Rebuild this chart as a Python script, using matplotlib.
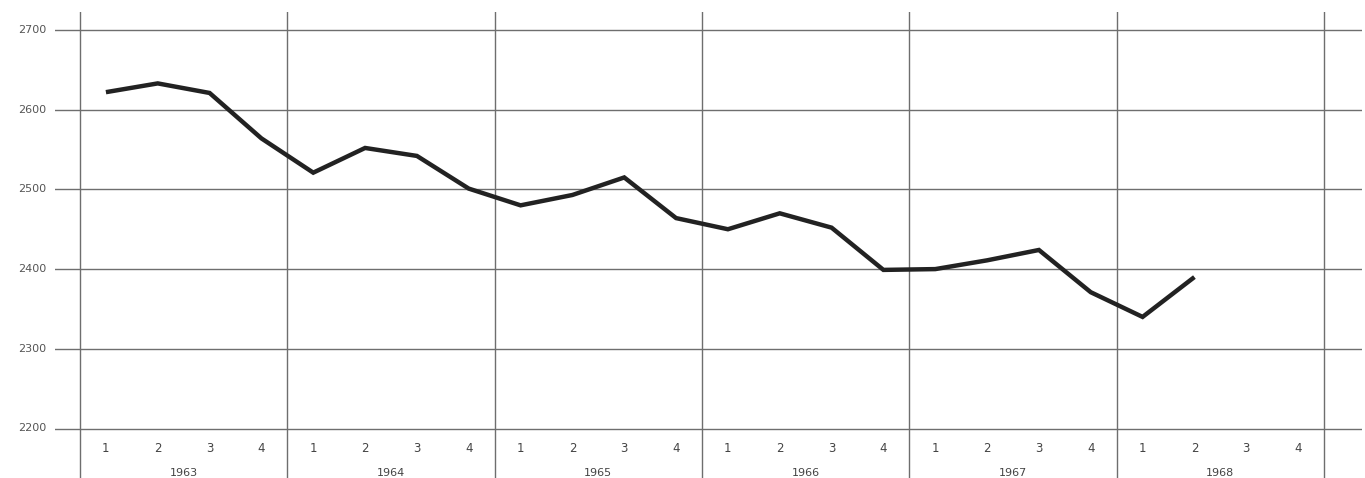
import matplotlib
matplotlib.use("Agg")
import matplotlib.pyplot as plt
import numpy as np

# ---- data ----
years = [1963, 1964, 1965, 1966, 1967, 1968]
quarter_labels = ["1", "2", "3", "4"]
values = [2622, 2633, 2621, 2564,
          2521, 2552, 2542, 2501,
          2480, 2493, 2515, 2464,
          2450, 2470, 2452, 2399,
          2400, 2411, 2424, 2371,
          2340, 2390]
y_ticks = [2200, 2300, 2400, 2500, 2600, 2700]

# ---- figure ----
W, H, DPI = 1365, 478, 100
fig = plt.figure(figsize=(W / DPI, H / DPI), dpi=DPI)
fig.patch.set_facecolor("white")

ax_left_px, ax_right_px = 55, 1362
ax_top_px, ax_bot_px = 12, 478
ax = fig.add_axes([ax_left_px / W, 1 - ax_bot_px / H,
                   (ax_right_px - ax_left_px) / W, (ax_bot_px - ax_top_px) / H])

n_q = len(years) * 4
x0_px, x1_px = 80, 1324
upp = n_q / (x1_px - x0_px)            # data units per pixel (x)
ax.set_xlim(0 - (x0_px - ax_left_px) * upp, n_q + (ax_right_px - x1_px) * upp)

y_top_px, y_bot_px = 30, 428.5
vpp = (y_ticks[-1] - y_ticks[0]) / (y_bot_px - y_top_px)
ax.set_ylim(y_ticks[0] - (ax_bot_px - y_bot_px) * vpp,
            y_ticks[-1] + (y_top_px - ax_top_px) * vpp)

for s in ax.spines.values():
    s.set_visible(False)
ax.set_xticks([])
ax.set_yticks([])

grid_col = "#6e6e6e"
for yv in y_ticks:
    ax.axhline(yv, color=grid_col, lw=1.0, zorder=1)
    ax.annotate(str(yv), xy=(0, yv), xycoords=("axes fraction", "data"),
                xytext=(-6, 0), textcoords="offset points",
                ha="right", va="center", fontsize=8, color="#555555",
                annotation_clip=False)

for k in range(len(years) + 1):
    ax.axvline(k * 4, color=grid_col, lw=1.0, zorder=1)

# quarter and year labels
q_y = y_ticks[0] - 20 * vpp
yr_y = y_ticks[0] - 45 * vpp
for yi, yr in enumerate(years):
    for qi, ql in enumerate(quarter_labels):
        ax.text(yi * 4 + qi + 0.5, q_y, ql, ha="center", va="center",
                fontsize=8.5, color="#444444")
    ax.text(yi * 4 + 2, yr_y, str(yr), ha="center", va="center",
            fontsize=8, color="#444444")

xs = np.arange(len(values)) + 0.5
ax.plot(xs, values, color="#222222", lw=3.2, solid_joinstyle="miter",
        solid_capstyle="butt", zorder=3)

fig.savefig("out.png", dpi=DPI, facecolor="white")
